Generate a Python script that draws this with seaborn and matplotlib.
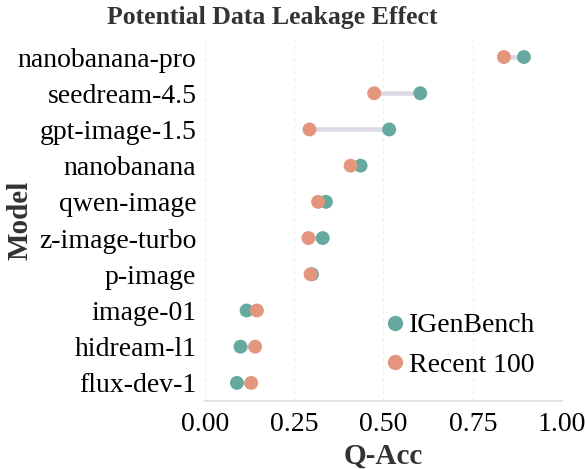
import matplotlib
matplotlib.use("Agg")
import matplotlib.pyplot as plt
import seaborn as sns
import pandas as pd
from matplotlib.lines import Line2D

models = ["nanobanana-pro", "seedream-4.5", "gpt-image-1.5", "nanobanana", "qwen-image",
          "z-image-turbo", "p-image", "image-01", "hidream-l1", "flux-dev-1"]
igenbench = [0.893, 0.603, 0.516, 0.436, 0.339, 0.330, 0.300, 0.117, 0.100, 0.090]
recent100 = [0.837, 0.474, 0.293, 0.408, 0.317, 0.290, 0.296, 0.146, 0.141, 0.130]
series_names = ["IGenBench", "Recent 100"]
colors = ["#66a99e", "#e3967d"]
xticks = [0.0, 0.25, 0.5, 0.75, 1.0]

sns.set_style("white")
plt.rcParams["font.family"] = ["Liberation Serif", "DejaVu Serif"]

df = pd.DataFrame({
    "Model": models * 2,
    "Q-Acc": igenbench + recent100,
    "Source": [series_names[0]] * len(models) + [series_names[1]] * len(models),
})

fig = plt.figure(figsize=(5.85, 4.69), dpi=100)
ax = fig.add_axes([0.350, 0.145, 0.611, 0.772])

for i, (a, b) in enumerate(zip(igenbench, recent100)):
    ax.plot([a, b], [i, i], color="#dcdae4", lw=3.3, zorder=1, solid_capstyle="butt")

sns.stripplot(data=df, x="Q-Acc", y="Model", hue="Source", order=models,
              hue_order=series_names, palette=colors, jitter=False, dodge=False,
              size=10, linewidth=0, ax=ax, zorder=3, legend=False)

ax.set_xlim(0, 1.0)
ax.set_ylim(len(models) - 0.5, -0.5)
ax.set_xticks(xticks)
ax.set_xticklabels([f"{t:.2f}" for t in xticks])
ax.grid(axis="x", linestyle=(0, (3, 3)), color="#ececec", lw=0.8)
ax.grid(axis="y", visible=False)
ax.set_axisbelow(True)
for s in ["top", "right", "left"]:
    ax.spines[s].set_visible(False)
ax.spines["bottom"].set_color("#dddddd")
ax.spines["bottom"].set_linewidth(1.2)
ax.tick_params(axis="x", labelsize=20, labelcolor="black", length=5, width=1,
               color="#555555", pad=3)
ax.tick_params(axis="y", labelsize=20, labelcolor="black", length=4, width=1,
               color="#555555", pad=2)

ax.set_xlabel("Q-Acc", fontsize=21, fontweight="bold", color="#333333", labelpad=4)
ax.set_ylabel("Model", fontsize=21, fontweight="bold", color="#333333")
ax.yaxis.label.set_va("center")
ax.yaxis.set_label_coords(-0.518, 0.5)
fig.text(0.465, 0.962, "Potential Data Leakage Effect", ha="center", va="center",
         fontsize=18.5, fontweight="bold", color="#333333")

handles = [Line2D([], [], marker="o", ls="", markersize=11, markerfacecolor=c,
                  markeredgewidth=0, label=n) for c, n in zip(colors, series_names)]
ax.legend(handles=handles, loc="lower right", frameon=False, fontsize=20,
          handlelength=0.8, handletextpad=0.1, borderaxespad=0.0, labelspacing=0.5,
          bbox_to_anchor=(0.955, 0.034), labelcolor="black")

fig.savefig("out.png", dpi=100)
